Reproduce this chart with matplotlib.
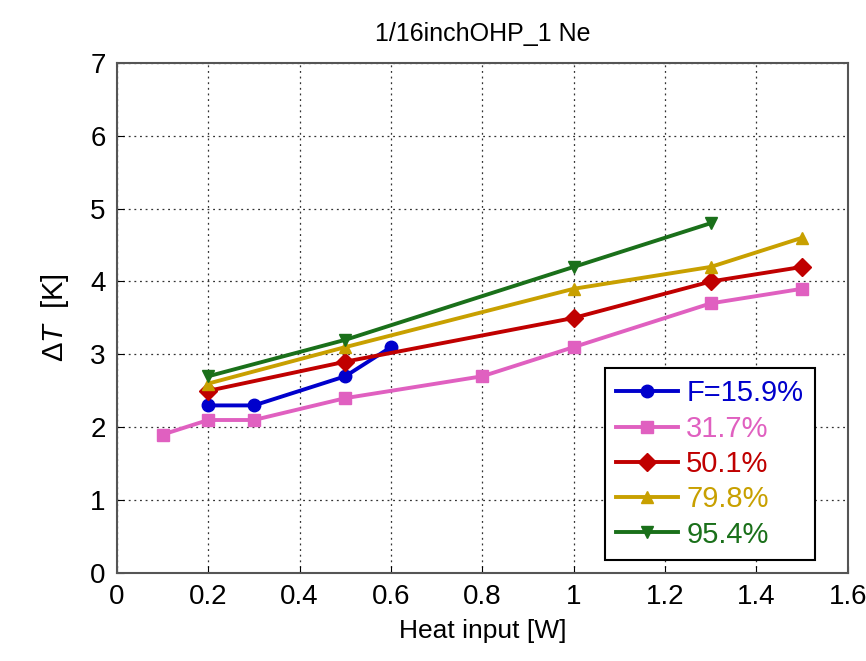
import numpy as np
import matplotlib.pyplot as plt

plt.rcParams['font.family'] = ['Liberation Sans', 'DejaVu Sans']
plt.rcParams['mathtext.fontset'] = 'custom'
plt.rcParams['mathtext.it'] = 'Liberation Sans:italic'
plt.rcParams['mathtext.rm'] = 'Liberation Sans'

# data
x_159 = [0.2, 0.3, 0.5, 0.6]
y_159 = [2.3, 2.3, 2.7, 3.1]
x_317 = [0.1, 0.2, 0.3, 0.5, 0.8, 1.0, 1.3, 1.5]
y_317 = [1.9, 2.1, 2.1, 2.4, 2.7, 3.1, 3.7, 3.9]
x_501 = [0.2, 0.5, 1.0, 1.3, 1.5]
y_501 = [2.5, 2.9, 3.5, 4.0, 4.2]
x_798 = [0.2, 0.5, 1.0, 1.3, 1.5]
y_798 = [2.6, 3.1, 3.9, 4.2, 4.6]
x_954 = [0.2, 0.5, 1.0, 1.3]
y_954 = [2.7, 3.2, 4.2, 4.8]

fig = plt.figure(figsize=(8.66, 6.61), dpi=100)
ax = fig.add_axes([0.135, 0.133, 0.844, 0.772])

lines = [
    (x_159, y_159, '#0000cc', 'o', 'F=15.9%'),
    (x_317, y_317, '#e060c0', 's', '31.7%'),
    (x_501, y_501, '#c00000', 'D', '50.1%'),
    (x_798, y_798, '#c8a000', '^', '79.8%'),
    (x_954, y_954, '#1a701a', 'v', '95.4%'),
]
for xs, ys, c, m, lab in lines:
    ax.plot(xs, ys, color=c, marker=m, markersize=9, linewidth=2.8, label=lab)

ax.set_xlim(0, 1.6)
ax.set_ylim(0, 7)
ax.set_xticks(np.arange(0, 1.61, 0.2))
ax.set_xticklabels(['0', '0.2', '0.4', '0.6', '0.8', '1', '1.2', '1.4', '1.6'])
ax.set_yticks(range(8))
ax.tick_params(direction='in', labelsize=20, length=5, pad=8)
ax.grid(True, linestyle=(0, (1.5, 3)), color='#333333', linewidth=0.9)
for s in ax.spines.values():
    s.set_color('#555555')
    s.set_linewidth(1.5)

ax.set_title('1/16inchOHP_1 Ne', fontsize=18, pad=16)
ax.set_xlabel('Heat input [W]', fontsize=19, labelpad=6)
ax.set_ylabel(r'$\Delta T$  [K]', fontsize=21, labelpad=14)

leg = ax.legend(loc='lower right', bbox_to_anchor=(0.955, 0.025), borderaxespad=0,
                fontsize=21, fancybox=False, framealpha=1, edgecolor='black',
                handlelength=2.1, handletextpad=0.3, labelspacing=0.25,
                borderpad=0.4)
leg.get_frame().set_linewidth(1.5)
for t, l in zip(leg.get_texts(), lines):
    t.set_color(l[2])

fig.savefig('out.png', dpi=100)
